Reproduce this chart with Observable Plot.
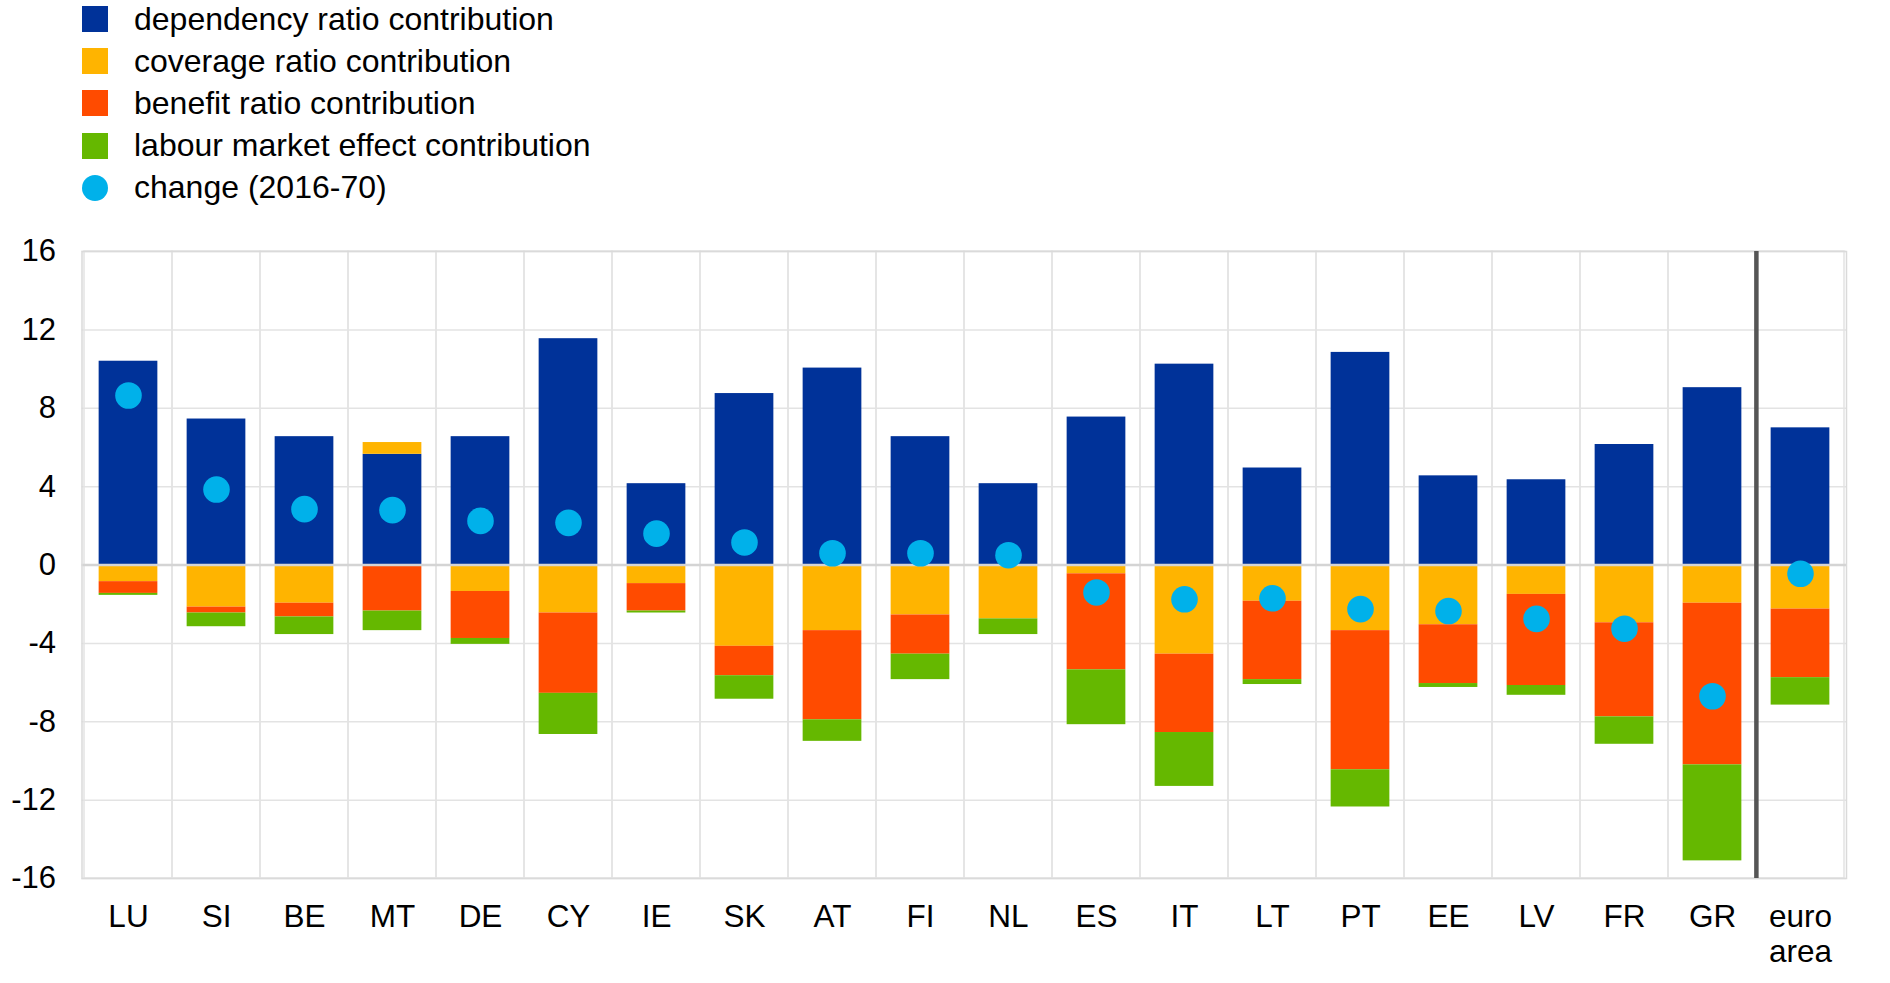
<!DOCTYPE html>
<html>
<head>
<meta charset="utf-8">
<script src="https://cdn.jsdelivr.net/npm/d3@7"></script>
<script src="https://cdn.jsdelivr.net/npm/@observablehq/plot@0.6"></script>
<style>
html, body { margin: 0; padding: 0; background: #fff; overflow: hidden; }
body { width: 1890px; height: 983px; font-family: "Liberation Sans", Arial, sans-serif; }
#legend { height: 225px; position: relative; }
.item { height: 42.2px; display: flex; align-items: center; font-size: 32px; color: #000; margin-left: 81.5px; }
.sw { width: 26px; height: 26px; margin-right: 26.5px; flex: none; }
.sw.dot { border-radius: 50%; }
#legend .rows { position: absolute; top: -2px; left: 0; }
</style>
</head>
<body>
<div id="legend"><div class="rows"></div></div>
<div id="chart"></div>
<script>
const countries = ["LU","SI","BE","MT","DE","CY","IE","SK","AT","FI","NL","ES","IT","LT","PT","EE","LV","FR","GR","euro area"];
const dependency = [10.4, 7.45, 6.55, 5.65, 6.55, 11.55, 4.15, 8.75, 10.05, 6.55, 4.15, 7.55, 10.25, 4.95, 10.85, 4.55, 4.35, 6.15, 9.05, 7.0];
const coverage   = [-0.85, -2.15, -1.95, 0.6, -1.35, -2.45, -0.95, -4.15, -3.35, -2.55, -2.75, -0.45, -4.55, -1.85, -3.35, -3.05, -1.5, -2.95, -1.95, -2.25];
const benefit    = [-0.6, -0.3, -0.7, -2.35, -2.4, -4.1, -1.4, -1.5, -4.55, -2.0, 0, -4.9, -4.0, -4.0, -7.1, -3.0, -4.65, -4.8, -8.25, -3.5];
const labour     = [-0.1, -0.7, -0.9, -1.0, -0.3, -2.1, -0.1, -1.2, -1.1, -1.3, -0.8, -2.8, -2.75, -0.25, -1.9, -0.2, -0.5, -1.4, -4.9, -1.4];
const change     = [8.65, 3.85, 2.85, 2.8, 2.25, 2.15, 1.6, 1.15, 0.6, 0.6, 0.5, -1.4, -1.75, -1.7, -2.25, -2.35, -2.75, -3.25, -6.7, -0.45];
const seriesNames = ["dependency ratio contribution", "coverage ratio contribution", "benefit ratio contribution", "labour market effect contribution"];
const changeName = "change (2016-70)";
const seriesColors = ["#003299", "#FFB400", "#FF4B00", "#65B800"];
const changeColor = "#00B1EA";
const yTicks = [-16, -12, -8, -4, 0, 4, 8, 12, 16];
const separatorBefore = "euro area";

// long table for the stacked bars
const seriesValues = [dependency, coverage, benefit, labour];
const rows = [];
countries.forEach((c, i) => {
  seriesValues.forEach((vals, s) => rows.push({country: c, series: seriesNames[s], value: vals[i]}));
});
const dots = countries.map((c, i) => ({country: c, value: change[i]}));

// legend
const legendRows = document.querySelector("#legend .rows");
seriesNames.forEach((name, i) => {
  const it = document.createElement("div"); it.className = "item";
  it.innerHTML = `<span class="sw" style="background:${seriesColors[i]}"></span><span>${name}</span>`;
  legendRows.appendChild(it);
});
{
  const it = document.createElement("div"); it.className = "item";
  it.innerHTML = `<span class="sw dot" style="background:${changeColor}"></span><span>${changeName}</span>`;
  legendRows.appendChild(it);
}

const W = 1890, H = 758, ML = 81.5, MR = 44, MT = 26, MB = 105;
const step = (W - ML - MR) / countries.length;
const barInset = step * 0.166;
const grid = "#e3e3e3";

const chart = Plot.plot({
  width: W, height: H,
  marginTop: MT, marginBottom: MB, marginLeft: ML, marginRight: MR,
  style: {fontFamily: "Liberation Sans, Arial, sans-serif", fontSize: "31px", color: "#000", background: "#fff"},
  x: {domain: countries, padding: 0, axis: null, label: null},
  y: {domain: [yTicks[0], yTicks[yTicks.length - 1]], axis: null, label: null},
  color: {domain: seriesNames, range: seriesColors},
  marks: [
    Plot.barY(countries, {x: d => d, y1: yTicks[0], y2: yTicks[yTicks.length - 1], fill: "none", stroke: grid, strokeWidth: 1.5}),
    Plot.ruleY(yTicks, {stroke: grid, strokeWidth: 1.5}),
    Plot.barY(rows, {x: "country", y: "value", fill: "series", insetLeft: barInset, insetRight: barInset}),
    Plot.ruleY([0], {stroke: "#d4d4d4", strokeWidth: 2.5}),
    Plot.frame({stroke: "#dadada", strokeWidth: 1.5}),
    Plot.ruleX([separatorBefore], {x: d => d, dx: -step / 2, y1: yTicks[0], y2: yTicks[yTicks.length - 1], stroke: "#555555", strokeWidth: 4.5}),
    Plot.dot(dots, {x: "country", y: "value", r: 13.3, fill: changeColor, stroke: "none"}),
    Plot.axisX({label: null, tickSize: 0, tickPadding: 23, lineHeight: 1.13, fontSize: 31.5, tickFormat: d => d === "euro area" ? "euro\narea" : d}),
    Plot.axisY({label: null, ticks: yTicks, tickSize: 0, tickPadding: 26, fontSize: 31, tickFormat: d => String(d)})
  ]
});
document.getElementById("chart").appendChild(chart);
</script>
</body>
</html>
